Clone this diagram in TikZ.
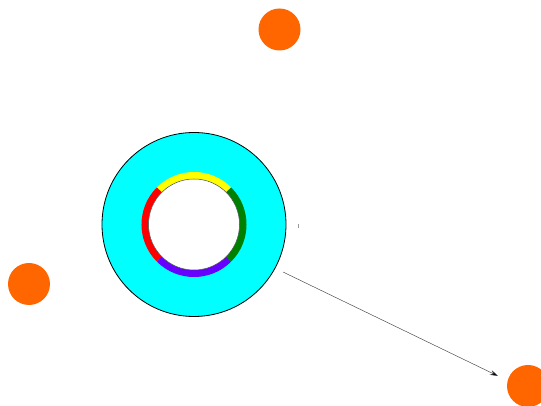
\documentclass[tikz,border=0pt]{standalone}
\usetikzlibrary{arrows.meta}
\definecolor{orangedot}{RGB}{255,102,0}
\definecolor{disccyan}{RGB}{0,255,255}
\definecolor{ringgreen}{RGB}{0,128,0}
\definecolor{ringpurple}{RGB}{102,0,255}
\definecolor{ringyellow}{RGB}{255,255,0}
\definecolor{ringred}{RGB}{255,0,0}
\begin{document}
\begin{tikzpicture}[x=1pt,y=1pt,
  dot/.style={circle,fill=orangedot,minimum size=42pt,inner sep=0pt},
  seg/.style={line width=7pt},
  link/.style={draw=black!75,line width=0.45pt,-{Stealth[length=8pt,width=5pt,fill=black]}}]
\useasboundingbox (0,0) rectangle (541,406);
\node[circle,draw=black,line width=0.8pt,fill=disccyan,minimum size=184pt,inner sep=0pt] (disc) at (194,181.5) {};
\draw[seg,ringyellow] (disc.center) ++(45:49) arc[start angle=45,end angle=135,radius=49];
\draw[seg,ringred] (disc.center) ++(135:49) arc[start angle=135,end angle=225,radius=49];
\draw[seg,ringpurple] (disc.center) ++(225:49) arc[start angle=225,end angle=315,radius=49];
\draw[seg,ringgreen] (disc.center) ++(-45:49) arc[start angle=-45,end angle=45,radius=49];
\node[circle,draw=black!70,line width=0.5pt,fill=white,minimum size=91pt,inner sep=0pt] (hole) at (disc.center) {};
\node[dot] (top) at (279.5,376.5) {};
\node[dot] (left) at (29,122) {};
\node[dot] (right) at (528,20) {};
\coordinate (as) at (283,134);
\coordinate (ae) at (498,30);
\draw[link] (as) -- (ae);
\coordinate (t1) at (298,178);
\coordinate (t2) at (298,181.5);
\draw[black!40,line width=0.4pt] (t1) -- (t2);
\end{tikzpicture}
\end{document}
